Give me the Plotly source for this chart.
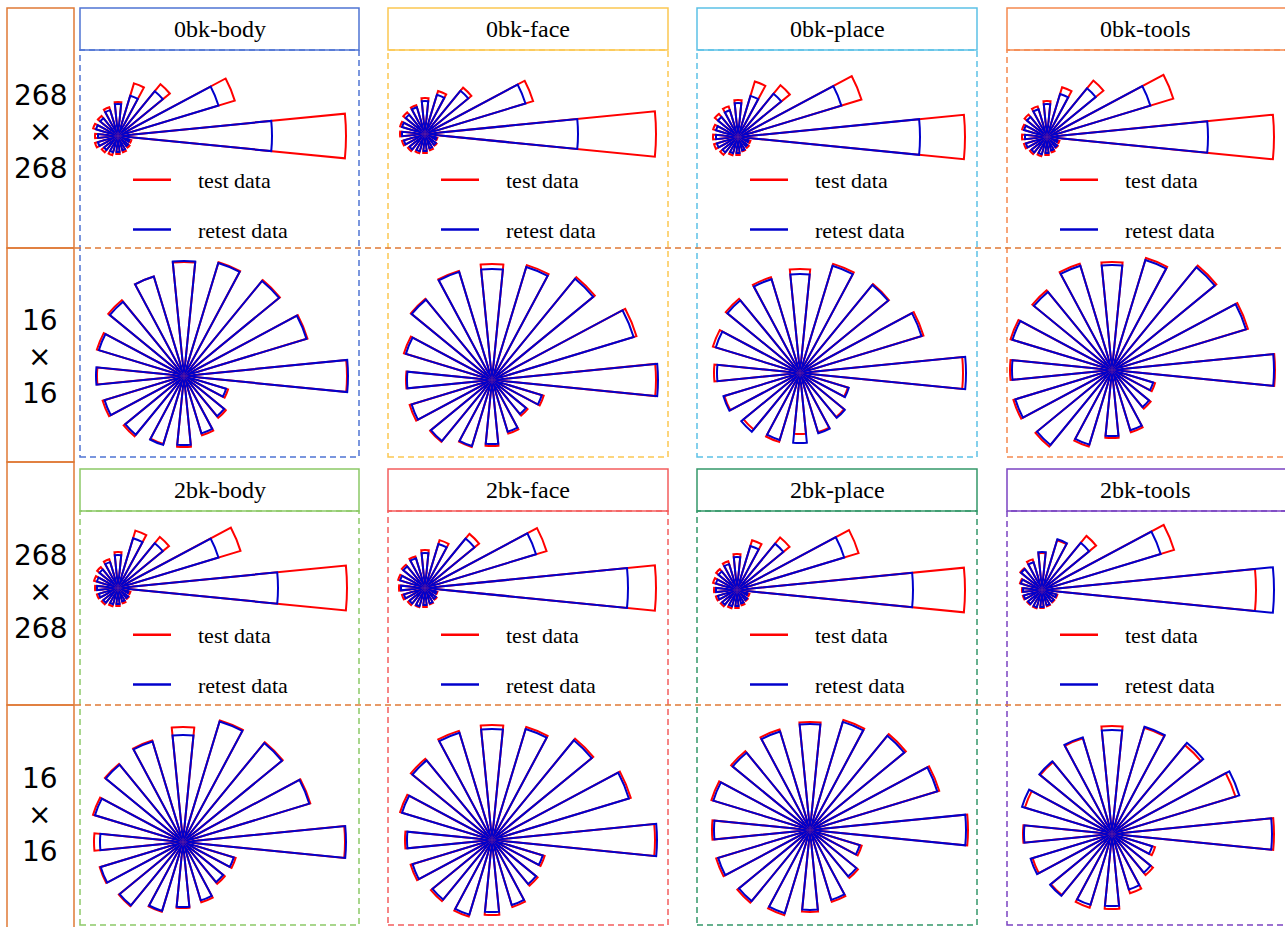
import math
import plotly.graph_objects as go

W, H = 1285, 927

# Angular position (deg, counter-clockwise from east) of each of the 16 wedges
wedge_theta = [0.0, 22.5, 45.0, 67.5, 90.0, 112.5, 135.0, 157.5,
               180.0, 202.5, 225.0, 247.5, 270.0, 292.5, 315.0, 337.5]
WEDGE_WIDTH = 11.25

conditions = ["0bk-body", "0bk-face", "0bk-place", "0bk-tools",
              "2bk-body", "2bk-face", "2bk-place", "2bk-tools"]
res_labels = {"268": "268<br>×<br>268", "16": "16<br>×<br>16"}

# ---- 268 x 268 parcellation ----
test_0bk_body_268 = [0.228, 0.122, 0.067, 0.055, 0.034, 0.030, 0.026, 0.026, 0.023, 0.024, 0.021, 0.020, 0.018, 0.017, 0.015, 0.014]
retest_0bk_body_268 = [0.154, 0.105, 0.058, 0.042, 0.032, 0.027, 0.023, 0.023, 0.020, 0.021, 0.018, 0.017, 0.016, 0.015, 0.013, 0.012]
test_0bk_face_268 = [0.231, 0.113, 0.060, 0.045, 0.036, 0.030, 0.028, 0.026, 0.025, 0.024, 0.022, 0.020, 0.019, 0.017, 0.015, 0.013]
retest_0bk_face_268 = [0.153, 0.105, 0.056, 0.041, 0.033, 0.028, 0.025, 0.024, 0.023, 0.022, 0.020, 0.018, 0.017, 0.015, 0.014, 0.012]
test_0bk_place_268 = [0.227, 0.129, 0.067, 0.058, 0.037, 0.032, 0.030, 0.026, 0.025, 0.025, 0.023, 0.019, 0.018, 0.015, 0.014, 0.013]
retest_0bk_place_268 = [0.182, 0.108, 0.056, 0.043, 0.034, 0.028, 0.026, 0.023, 0.022, 0.022, 0.020, 0.017, 0.016, 0.014, 0.012, 0.011]
test_0bk_tools_268 = [0.227, 0.132, 0.073, 0.052, 0.036, 0.032, 0.029, 0.026, 0.025, 0.024, 0.022, 0.020, 0.018, 0.016, 0.014, 0.013]
retest_0bk_tools_268 = [0.161, 0.108, 0.063, 0.045, 0.033, 0.029, 0.026, 0.024, 0.022, 0.022, 0.020, 0.018, 0.016, 0.014, 0.013, 0.011]
test_2bk_body_268 = [0.229, 0.128, 0.066, 0.060, 0.036, 0.030, 0.027, 0.025, 0.023, 0.022, 0.021, 0.019, 0.018, 0.016, 0.014, 0.013]
retest_2bk_body_268 = [0.160, 0.105, 0.058, 0.052, 0.033, 0.027, 0.024, 0.022, 0.021, 0.020, 0.019, 0.017, 0.016, 0.014, 0.013, 0.011]
test_2bk_face_268 = [0.231, 0.127, 0.070, 0.050, 0.038, 0.033, 0.030, 0.028, 0.026, 0.024, 0.022, 0.020, 0.019, 0.017, 0.015, 0.013]
retest_2bk_face_268 = [0.203, 0.116, 0.064, 0.046, 0.035, 0.031, 0.028, 0.026, 0.024, 0.022, 0.020, 0.019, 0.017, 0.016, 0.014, 0.012]
test_2bk_place_268 = [0.228, 0.127, 0.068, 0.052, 0.036, 0.030, 0.027, 0.025, 0.023, 0.022, 0.021, 0.019, 0.018, 0.016, 0.014, 0.013]
retest_2bk_place_268 = [0.176, 0.112, 0.060, 0.046, 0.033, 0.027, 0.024, 0.022, 0.021, 0.020, 0.019, 0.017, 0.016, 0.014, 0.013, 0.011]
test_2bk_tools_268 = [0.214, 0.138, 0.070, 0.052, 0.037, 0.032, 0.028, 0.023, 0.020, 0.020, 0.019, 0.019, 0.018, 0.017, 0.016, 0.016]
retest_2bk_tools_268 = [0.232, 0.124, 0.061, 0.053, 0.038, 0.029, 0.027, 0.022, 0.019, 0.019, 0.018, 0.018, 0.017, 0.016, 0.015, 0.015]

# ---- 16 x 16 parcellation ----
test_0bk_body_16 = [0.163, 0.129, 0.124, 0.119, 0.114, 0.104, 0.098, 0.091, 0.087, 0.085, 0.078, 0.071, 0.071, 0.062, 0.054, 0.046]
retest_0bk_body_16 = [0.164, 0.128, 0.123, 0.118, 0.115, 0.104, 0.096, 0.089, 0.088, 0.083, 0.076, 0.072, 0.069, 0.060, 0.052, 0.044]
test_0bk_face_16 = [0.164, 0.151, 0.133, 0.120, 0.116, 0.114, 0.105, 0.092, 0.086, 0.086, 0.080, 0.070, 0.066, 0.056, 0.046, 0.054]
retest_0bk_face_16 = [0.166, 0.148, 0.131, 0.118, 0.111, 0.113, 0.104, 0.090, 0.085, 0.084, 0.079, 0.069, 0.064, 0.054, 0.044, 0.052]
test_0bk_place_16 = [0.163, 0.129, 0.115, 0.114, 0.104, 0.100, 0.096, 0.091, 0.086, 0.079, 0.073, 0.072, 0.061, 0.062, 0.057, 0.050]
retest_0bk_place_16 = [0.166, 0.127, 0.114, 0.112, 0.099, 0.098, 0.094, 0.088, 0.083, 0.080, 0.076, 0.070, 0.070, 0.063, 0.058, 0.051]
test_0bk_tools_16 = [0.163, 0.142, 0.135, 0.117, 0.108, 0.111, 0.103, 0.106, 0.102, 0.103, 0.099, 0.080, 0.068, 0.065, 0.050, 0.045]
retest_0bk_tools_16 = [0.162, 0.140, 0.133, 0.115, 0.105, 0.109, 0.101, 0.104, 0.100, 0.101, 0.097, 0.078, 0.066, 0.063, 0.048, 0.043]
test_2bk_body_16 = [0.162, 0.133, 0.129, 0.127, 0.115, 0.106, 0.101, 0.094, 0.089, 0.087, 0.083, 0.073, 0.066, 0.063, 0.054, 0.055]
retest_2bk_body_16 = [0.163, 0.132, 0.128, 0.126, 0.107, 0.105, 0.100, 0.092, 0.083, 0.086, 0.082, 0.072, 0.065, 0.061, 0.052, 0.053]
test_2bk_face_16 = [0.163, 0.145, 0.131, 0.118, 0.115, 0.114, 0.105, 0.096, 0.087, 0.085, 0.079, 0.080, 0.075, 0.070, 0.059, 0.055]
retest_2bk_face_16 = [0.165, 0.143, 0.129, 0.116, 0.111, 0.112, 0.103, 0.094, 0.085, 0.083, 0.077, 0.078, 0.072, 0.068, 0.057, 0.053]
test_2bk_place_16 = [0.158, 0.135, 0.124, 0.115, 0.108, 0.105, 0.102, 0.103, 0.098, 0.098, 0.094, 0.089, 0.082, 0.075, 0.062, 0.054]
retest_2bk_place_16 = [0.156, 0.133, 0.122, 0.113, 0.106, 0.103, 0.100, 0.101, 0.096, 0.096, 0.092, 0.087, 0.080, 0.073, 0.060, 0.052]
test_2bk_tools_16 = [0.162, 0.129, 0.115, 0.111, 0.108, 0.100, 0.093, 0.091, 0.089, 0.083, 0.079, 0.077, 0.075, 0.062, 0.053, 0.045]
retest_2bk_tools_16 = [0.160, 0.133, 0.118, 0.112, 0.104, 0.101, 0.094, 0.094, 0.088, 0.085, 0.080, 0.074, 0.072, 0.058, 0.050, 0.042]

series = {
    ("0bk-body", "268"): (test_0bk_body_268, retest_0bk_body_268),
    ("0bk-face", "268"): (test_0bk_face_268, retest_0bk_face_268),
    ("0bk-place", "268"): (test_0bk_place_268, retest_0bk_place_268),
    ("0bk-tools", "268"): (test_0bk_tools_268, retest_0bk_tools_268),
    ("2bk-body", "268"): (test_2bk_body_268, retest_2bk_body_268),
    ("2bk-face", "268"): (test_2bk_face_268, retest_2bk_face_268),
    ("2bk-place", "268"): (test_2bk_place_268, retest_2bk_place_268),
    ("2bk-tools", "268"): (test_2bk_tools_268, retest_2bk_tools_268),
    ("0bk-body", "16"): (test_0bk_body_16, retest_0bk_body_16),
    ("0bk-face", "16"): (test_0bk_face_16, retest_0bk_face_16),
    ("0bk-place", "16"): (test_0bk_place_16, retest_0bk_place_16),
    ("0bk-tools", "16"): (test_0bk_tools_16, retest_0bk_tools_16),
    ("2bk-body", "16"): (test_2bk_body_16, retest_2bk_body_16),
    ("2bk-face", "16"): (test_2bk_face_16, retest_2bk_face_16),
    ("2bk-place", "16"): (test_2bk_place_16, retest_2bk_place_16),
    ("2bk-tools", "16"): (test_2bk_tools_16, retest_2bk_tools_16),
}

# ---------------- layout geometry (pixels) ----------------
RED = "#ff0000"
BLUE = "#0000cc"
ORANGE = "#e07a36"
BAR_LINE = 2.0
group_color = {
    "0bk-body": "#4f74d4", "0bk-face": "#fcc851", "0bk-place": "#5cc1e6", "0bk-tools": "#f5894f",
    "2bk-body": "#8cc967", "2bk-face": "#f45d5d", "2bk-place": "#34986a", "2bk-tools": "#7b43c2",
}
col_x = [(80, 359), (388, 668), (697, 977), (1007, 1290)]
block_rows = [  # title box y-range, panel y-range, 268/16 divider
    dict(title=(8, 50), panel=(50, 457), split=248, legend_top=159),
    dict(title=(469, 511), panel=(511, 925), split=705, legend_top=614),
]
PX_PER_UNIT = 1000.0
# polar centre of each panel (pixels)
centre = {
    ("0bk-body", "268"): (118, 136), ("0bk-face", "268"): (425, 134),
    ("0bk-place", "268"): (738, 137), ("0bk-tools", "268"): (1047, 137),
    ("0bk-body", "16"): (184, 376), ("0bk-face", "16"): (492, 380),
    ("0bk-place", "16"): (800, 373), ("0bk-tools", "16"): (1112, 370),
    ("2bk-body", "268"): (118, 588), ("2bk-face", "268"): (425, 588),
    ("2bk-place", "268"): (737, 590), ("2bk-tools", "268"): (1042, 590),
    ("2bk-body", "16"): (183, 842), ("2bk-face", "16"): (492, 840),
    ("2bk-place", "16"): (810, 830), ("2bk-tools", "16"): (1112, 834),
}


def sector_bbox(s0, s1):
    """Unit bounding box of a polar sector (same rule plotly uses)."""
    arc = s1 - s0
    a0 = s0 % 360
    a1 = a0 + arc
    ax0, ay0 = math.cos(math.radians(a0)), math.sin(math.radians(a0))
    ax1, ay1 = math.cos(math.radians(a1)), math.sin(math.radians(a1))
    if (a0 <= 90 and a1 >= 90) or (a0 > 90 and a1 >= 450):
        y1 = 1
    elif ay0 <= 0 and ay1 <= 0:
        y1 = 0
    else:
        y1 = max(ay0, ay1)
    if (a0 <= 180 and a1 >= 180) or (a0 > 180 and a1 >= 540):
        x0 = -1
    elif ax0 >= 0 and ax1 >= 0:
        x0 = 0
    else:
        x0 = min(ax0, ax1)
    if (a0 <= 270 and a1 >= 270) or (a0 > 270 and a1 >= 630):
        y0 = -1
    elif ay0 >= 0 and ay1 >= 0:
        y0 = 0
    else:
        y0 = min(ay0, ay1)
    if a1 >= 360:
        x1 = 1
    elif ax0 <= 0 and ax1 <= 0:
        x1 = 0
    else:
        x1 = max(ax0, ax1)
    return x0, y0, x1, y1


def clamp(v):
    return min(1.0, max(0.0, v))


fig = go.Figure()
layout = {}
polar_n = 0
first_polar_of = {}

# Each wedge lives in its own 22.5-degree polar sector so that a panel can
# keep its centre close to the panel edge.  All test wedges of a panel are
# laid down first and the retest wedges on top of them.
for key, (test_vals, retest_vals) in series.items():
    cx, cy = centre[key]
    for vals, colour in ((test_vals, RED), (retest_vals, BLUE)):
        for k, theta in enumerate(wedge_theta):
            polar_n += 1
            name = "polar" if polar_n == 1 else f"polar{polar_n}"
            first_polar_of.setdefault(key, name)
            s0, s1 = theta - 11.25, theta + 11.25
            bx0, by0, bx1, by1 = sector_bbox(s0, s1)
            r_max = max(test_vals[k], retest_vals[k]) * PX_PER_UNIT + 2.5
            dom_x = [clamp((cx + bx0 * r_max) / W), clamp((cx + bx1 * r_max) / W)]
            dom_y = [clamp((H - cy + by0 * r_max) / H), clamp((H - cy + by1 * r_max) / H)]
            layout[name] = dict(
                domain=dict(x=dom_x, y=dom_y),
                sector=[s0, s1],
                bgcolor="rgba(0,0,0,0)",
                radialaxis=dict(visible=False, range=[0, r_max / PX_PER_UNIT]),
                angularaxis=dict(visible=False, rotation=0, direction="counterclockwise"),
            )
            fig.add_trace(go.Barpolar(
                r=[vals[k]], theta=[theta], width=[WEDGE_WIDTH],
                subplot=name, showlegend=False,
                marker=dict(color="rgba(0,0,0,0)", line=dict(color=colour, width=BAR_LINE)),
                hoverinfo="r+theta",
            ))

# Legends for the 268 x 268 panels
legend_n = 0
for bi, block in enumerate(block_rows):
    for ci in range(4):
        cond = conditions[bi * 4 + ci]
        key = (cond, "268")
        legend_n += 1
        lname = "legend" if legend_n == 1 else f"legend{legend_n}"
        x0 = col_x[ci][0]
        layout[lname] = dict(
            x=(x0 + 48) / W, y=1 - block["legend_top"] / H, xanchor="left", yanchor="top",
            bgcolor="rgba(0,0,0,0)", borderwidth=0,
            font=dict(family="Liberation Serif", size=22, color="black"),
            itemwidth=38, tracegroupgap=18,
        )
        for label, colour in (("test data", RED), ("retest data", BLUE)):
            fig.add_trace(go.Scatterpolar(
                r=[None], theta=[None], mode="lines", name="\u2003" + label,
                subplot=first_polar_of[key], legend=lname,
                legendgroup=f"{cond}-{label}",
                line=dict(color=colour, width=2.5), hoverinfo="skip",
            ))

# Frames, title boxes and dividers
shapes = []
annotations = []


def px(x, y):
    return x / W, 1 - y / H


def rect(x0, y0, x1, y1, colour, dash="solid", width=1.5):
    a, b = px(x0, y0)
    c, d = px(x1, y1)
    shapes.append(dict(type="rect", xref="paper", yref="paper", x0=a, y0=d, x1=c, y1=b,
                       line=dict(color=colour, width=width, dash=dash),
                       fillcolor="rgba(0,0,0,0)", layer="below"))


for bi, block in enumerate(block_rows):
    for ci in range(4):
        cond = conditions[bi * 4 + ci]
        colour = group_color[cond]
        xa, xb = col_x[ci]
        rect(xa, block["panel"][0], xb, block["panel"][1], colour, dash="6px,4px")
        rect(xa, block["title"][0], xb, block["title"][1], colour)
        tx, ty = px((xa + min(xb, 1283)) / 2, (block["title"][0] + block["title"][1]) / 2)
        annotations.append(dict(text=cond, x=tx, y=ty, xref="paper", yref="paper",
                                showarrow=False, xanchor="center", yanchor="middle",
                                font=dict(family="Liberation Serif", size=24, color="black")))
    # dashed divider between the 268 and 16 rows
    a, yy = px(75, block["split"])
    shapes.append(dict(type="line", xref="paper", yref="paper", x0=a, x1=1, y0=yy, y1=yy,
                       line=dict(color=ORANGE, width=1.5, dash="6px,4px")))

# Resolution label boxes on the left
label_boxes = [("268", 8, 248, 132), ("16", 248, 462, 357),
               ("268", 462, 705, 592), ("16", 705, 935, 815)]
for res, y0, y1, yc in label_boxes:
    rect(7, y0, 74, y1, ORANGE)
    tx, ty = px(40, yc)
    annotations.append(dict(text=res_labels[res], x=tx, y=ty, xref="paper", yref="paper",
                            showarrow=False, xanchor="center", yanchor="middle",
                            font=dict(family="DejaVu Sans", size=28, color="black")))

fig.update_layout(
    width=W, height=H, margin=dict(l=0, r=0, t=0, b=0),
    paper_bgcolor="white", plot_bgcolor="white",
    shapes=shapes, annotations=annotations, showlegend=True,
    **layout,
)

fig.write_html("out.html")
